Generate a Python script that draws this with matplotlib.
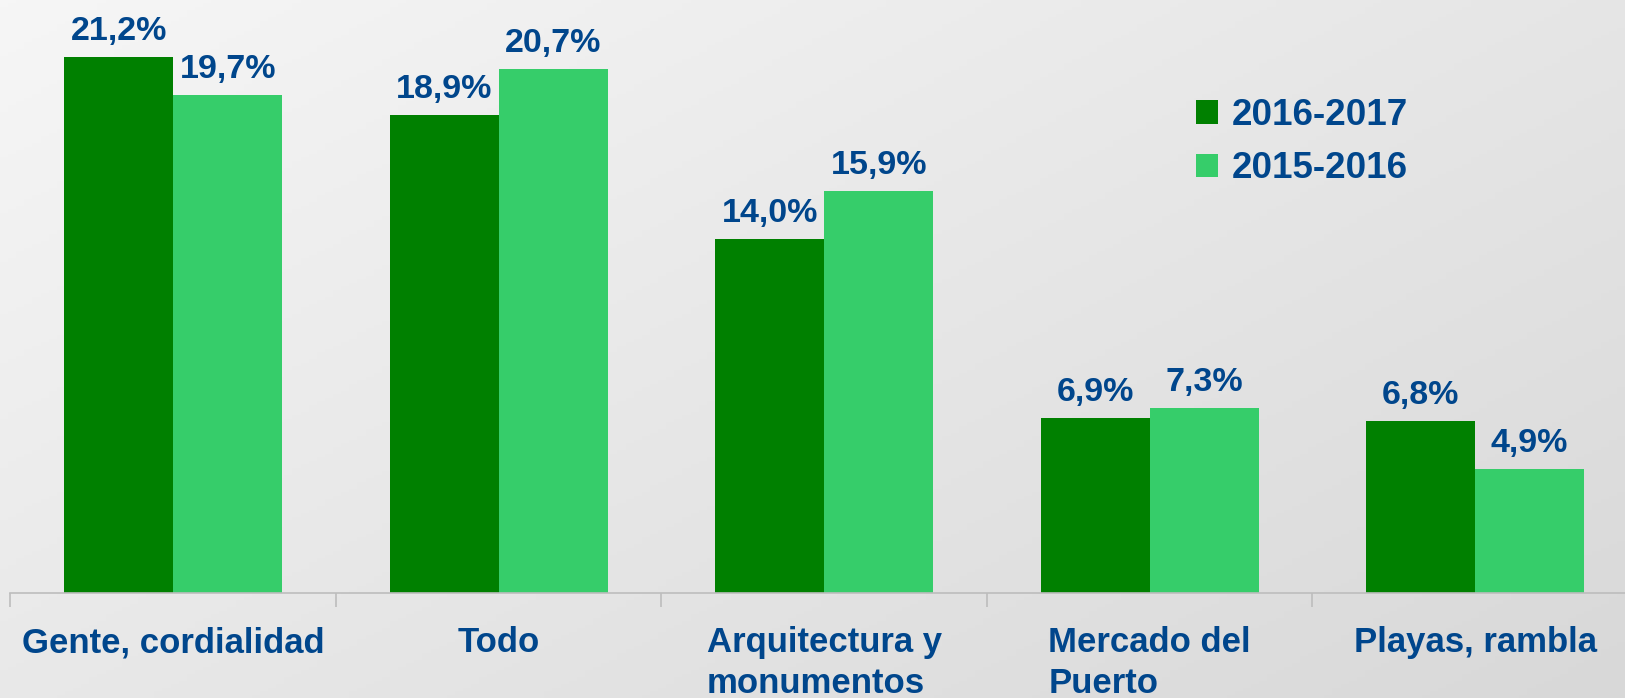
"""Bar chart: aspectos valorados, 2016-2017 vs 2015-2016."""

import matplotlib

matplotlib.use("Agg")
import matplotlib.pyplot as plt
import numpy as np
from matplotlib.patches import Patch

categories = [
    "Gente, cordialidad",
    "Todo",
    "Arquitectura y\nmonumentos",
    "Mercado del\nPuerto",
    "Playas, rambla",
]
values_2016_2017 = [21.2, 18.9, 14.0, 6.9, 6.8]
values_2015_2016 = [19.7, 20.7, 15.9, 7.3, 4.9]
series_labels = ["2016-2017", "2015-2016"]

DARK = "#008000"
LIGHT = "#36CD6A"
TEXT = "#00468C"
AXIS_GREY = "#BDBDBD"

plt.rcParams["font.family"] = ["Liberation Sans", "DejaVu Sans"]

W, H, DPI = 1625, 698, 100
fig = plt.figure(figsize=(W / DPI, H / DPI), dpi=DPI)

# diagonal grey gradient behind everything
bg = fig.add_axes([0, 0, 1, 1], zorder=-10)
gx, gy = np.meshgrid(np.linspace(0, 1, 200), np.linspace(0, 1, 200))
grad = 0.55 * gx + 0.45 * gy
bg.imshow(grad, cmap=matplotlib.colors.LinearSegmentedColormap.from_list(
    "bgg", ["#F6F6F6", "#D8D8D8"]), aspect="auto", extent=(0, 1, 1, 0),
    vmin=0, vmax=1)
bg.axis("off")

# axes placement in pixels: baseline at y=593, 1% = 25.3 px, category = 325.5 px
base_px = 593
px_per_pct = 25.3
cat_px = 325.5
left_px = 10.4
ax = fig.add_axes([left_px / W, (H - base_px) / H, 5 * cat_px / W, base_px / H])
ax.patch.set_alpha(0)
ax.set_xlim(-0.5, 4.5)
ax.set_ylim(0, base_px / px_per_pct)

x = np.arange(len(categories))
bw = 0.335
b1 = ax.bar(x - bw / 2, values_2016_2017, bw, color=DARK, label=series_labels[0])
b2 = ax.bar(x + bw / 2, values_2015_2016, bw, color=LIGHT, label=series_labels[1])

for bars, vals in ((b1, values_2016_2017), (b2, values_2015_2016)):
    for rect, v in zip(bars, vals):
        ax.annotate(
            f"{v:.1f}%".replace(".", ","),
            xy=(rect.get_x() + rect.get_width() / 2, v),
            xytext=(0, 17), textcoords="offset pixels",
            ha="center", va="baseline",
            fontsize=24.5, fontweight="bold", color=TEXT,
        )

for i, lab in enumerate(categories):
    ax.annotate(
        lab, xy=(i, 0), xycoords=("data", "axes fraction"),
        xytext=(0, -33), textcoords="offset pixels",
        ha="center", va="top", multialignment="left",
        linespacing=1.31, fontsize=25, fontweight="bold", color=TEXT,
    )

for side in ("top", "right", "left"):
    ax.spines[side].set_visible(False)
ax.spines["bottom"].set_color(AXIS_GREY)
ax.spines["bottom"].set_linewidth(1.2)
ax.set_yticks([])
ax.set_xticks([])
ax.set_xticks(np.arange(-0.5, 5.0, 1.0), minor=True)
ax.tick_params(axis="x", which="minor", length=10, width=1.2, color=AXIS_GREY,
               labelbottom=False)

handles = [Patch(facecolor=DARK, edgecolor="none"), Patch(facecolor=LIGHT, edgecolor="none")]
fs_leg = 26.5
leg = ax.legend(
    handles, series_labels, loc="upper left",
    bbox_to_anchor=(1196 / W, 1 - 98 / H), bbox_transform=fig.transFigure,
    frameon=False, borderpad=0, borderaxespad=0,
    handlelength=0.61, handleheight=0.61, handletextpad=0.35, labelspacing=0.5,
    prop={"weight": "bold", "size": fs_leg},
)
for t in leg.get_texts():
    t.set_color(TEXT)

fig.savefig("out.png", dpi=DPI)
